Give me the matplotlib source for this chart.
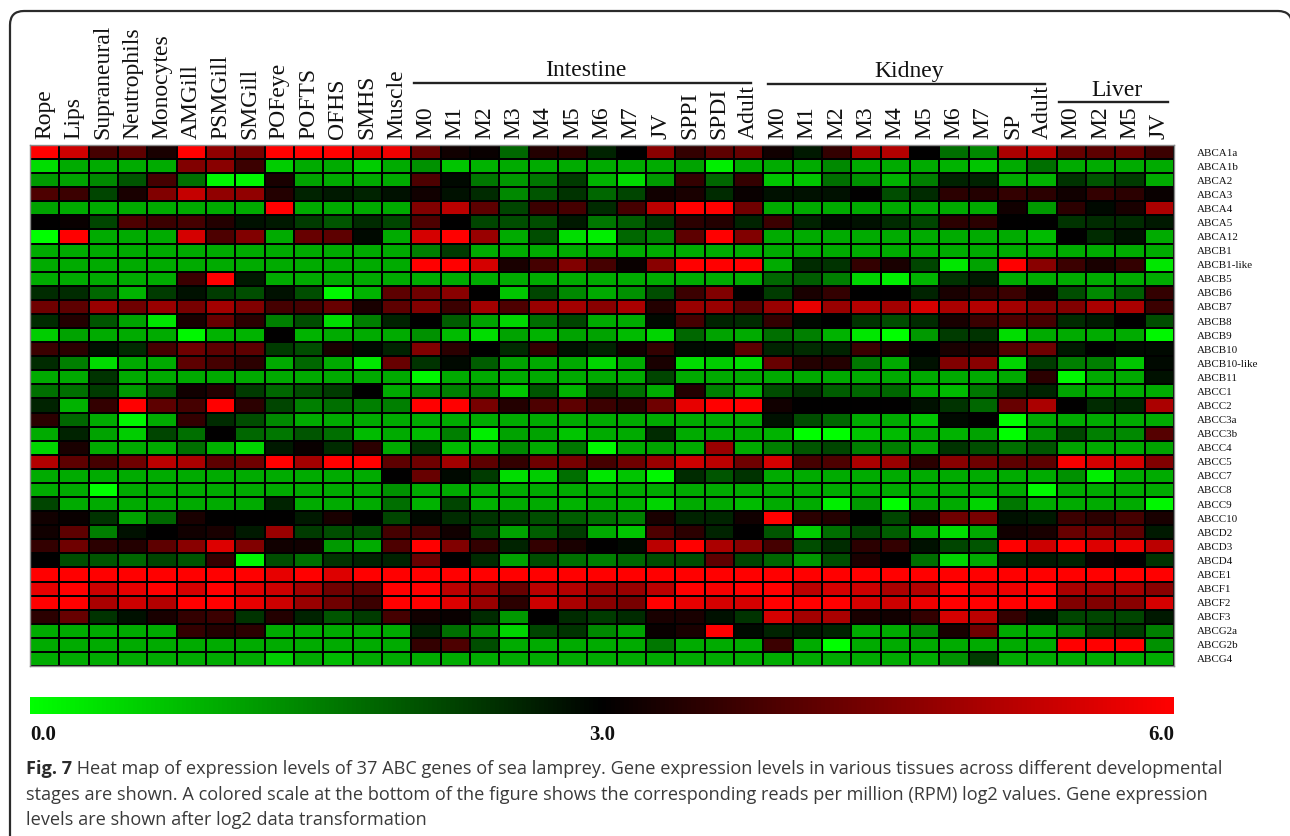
# mapa de calor de genes ABC (lamprea)
import numpy as np
import matplotlib
matplotlib.use('Agg')
import matplotlib.pyplot as plt
from matplotlib.colors import LinearSegmentedColormap
from matplotlib.patches import FancyBboxPatch

genes = ['ABCA1a', 'ABCA1b', 'ABCA2', 'ABCA3', 'ABCA4', 'ABCA5', 'ABCA12', 'ABCB1', 'ABCB1-like',
         'ABCB5', 'ABCB6', 'ABCB7', 'ABCB8', 'ABCB9', 'ABCB10', 'ABCB10-like', 'ABCB11', 'ABCC1',
         'ABCC2', 'ABCC3a', 'ABCC3b', 'ABCC4', 'ABCC5', 'ABCC7', 'ABCC8', 'ABCC9', 'ABCC10',
         'ABCD2', 'ABCD3', 'ABCD4', 'ABCE1', 'ABCF1', 'ABCF2', 'ABCF3', 'ABCG2a', 'ABCG2b', 'ABCG4']

tissue_labels = ['Rope', 'Lips', 'Supraneural', 'Neutrophils', 'Monocytes', 'AMGill', 'PSMGill',
                 'SMGill', 'POFeye', 'POFTS', 'OFHS', 'SMHS', 'Muscle']
intestine_labels = ['M0', 'M1', 'M2', 'M3', 'M4', 'M5', 'M6', 'M7', 'JV', 'SPPI', 'SPDI', 'Adult']
kidney_labels = ['M0', 'M1', 'M2', 'M3', 'M4', 'M5', 'M6', 'M7', 'SP', 'Adult']
liver_labels = ['M0', 'M2', 'M5', 'JV']

tissue_values = [
    [6, 5.4, 3.8, 4.1, 3.3, 6, 4.7, 4.4, 6, 6, 6, 5.6, 5.8],
    [0.4, 1, 1, 1, 1, 4.5, 4.6, 3.7, 0.6, 1, 1, 0.6, 1],
    [1.2, 1.1, 1.4, 2, 3.8, 1.7, 0.1, 0.1, 3.3, 1.1, 1, 1, 1],
    [3.9, 3.7, 2.2, 3.3, 4.5, 5.3, 4.7, 4.7, 3.4, 2.6, 2.7, 2.6, 2.8],
    [1.1, 1, 1, 1, 1, 1, 1, 1, 6, 1, 1, 1, 1],
    [3, 3.1, 2.2, 3.9, 3.7, 3.8, 3.4, 2.8, 2.7, 2.3, 2, 2.5, 2.2],
    [0, 6, 1, 1, 1, 5.5, 3.9, 4.5, 1, 4.2, 4.1, 2.9, 1],
    [1, 1, 1, 1, 1, 1, 1, 1, 1, 1, 1, 1, 1],
    [1, 1, 1, 1, 1, 1, 1, 1, 1, 1, 1, 1, 1],
    [1, 1, 1, 1, 1, 3.7, 6, 2.7, 1, 1, 1, 1, 1],
    [2.5, 2.5, 1.8, 0.9, 2.3, 2.8, 2.3, 2.1, 2.8, 2.1, 0.1, 0.9, 4.1],
    [4.3, 4.1, 4.8, 4.3, 4.8, 4.4, 4.9, 4.5, 3.8, 3.8, 4.2, 3.3, 4.1],
    [2.5, 3.4, 2, 1.1, 0.3, 3.3, 4.2, 3.5, 1.5, 2.1, 0.4, 1.5, 2.6],
    [0.6, 1.1, 1, 1, 1, 0.1, 0.9, 0.9, 3, 0.9, 1, 1, 1],
    [3.7, 3.5, 2.8, 2.5, 3.8, 4.3, 4.1, 4.1, 2.3, 2.1, 3.3, 2.9, 2.6],
    [2.5, 1.5, 0.4, 1, 1, 4.1, 3.8, 3.5, 1, 1.8, 1, 0.3, 4.2],
    [1, 1, 2.4, 1, 1, 1, 1, 1, 1, 1, 1, 1, 1],
    [1.7, 1.7, 2.3, 1.2, 2, 3.2, 3.4, 2.3, 1.8, 2.1, 2.3, 3, 1],
    [2.6, 0.9, 3.6, 6, 4.1, 3.8, 6, 3.5, 2.2, 1.5, 1.7, 1.5, 1.5],
    [3.5, 1.8, 1, 0.1, 1, 3.6, 2.5, 2.1, 1.4, 1, 1, 1, 1],
    [1, 2.6, 1.1, 0.6, 2.2, 1.7, 3, 1.8, 1.6, 2, 1.7, 0.8, 1],
    [0.5, 3.3, 1, 1, 1, 1.7, 0.9, 0.5, 2.7, 3.1, 2.5, 3.5, 1],
    [5.1, 4.1, 3.8, 4.3, 5.2, 5, 4.1, 4.3, 6, 4.9, 6, 6, 4.1],
    [1, 1, 1, 1, 1, 1, 1, 1, 1, 1, 1, 1, 3],
    [1, 1, 0, 1, 1, 1, 1, 1, 1, 1, 1, 1, 1.3],
    [2.2, 1, 1, 1, 1, 1, 1, 1, 2.6, 1, 1, 1, 1.7],
    [3.2, 3.1, 2.4, 1.1, 1.8, 3.3, 3, 3, 3, 2.7, 3.3, 3, 2.2],
    [3.2, 4.1, 1.5, 2.8, 3, 3.2, 3.3, 2.7, 4.8, 2.3, 2.1, 2.1, 3.8],
    [3.6, 4.3, 3.5, 3.4, 4.1, 4.6, 5.6, 4.5, 3.2, 3.2, 1.2, 1, 3.9],
    [3, 2.1, 2, 1.8, 2.2, 2, 3.6, 0.1, 2.1, 1.7, 2.4, 2.6, 2.6],
    [6, 6, 6, 6, 6, 6, 6, 6, 5.7, 6, 5.6, 6, 6],
    [5.7, 6, 5.4, 5.7, 6, 5.5, 6, 5.6, 5.4, 4.9, 4.3, 4.1, 6],
    [6, 6, 5, 5.4, 5.1, 6, 6, 5.7, 5.4, 4.8, 4.3, 3.7, 6],
    [3.5, 4.2, 2.4, 2.8, 3.3, 3.6, 3.7, 2.4, 3.4, 2.6, 2, 2.3, 3.8],
    [1, 1, 1, 1, 1, 3.6, 3.4, 3.5, 1, 1, 1, 1, 1],
    [1, 1, 1, 1, 1, 1, 1, 1, 1, 1, 1, 1, 1],
    [1, 1, 1, 1, 1, 1, 1, 1, 0.6, 1, 0.8, 1, 1],
]

intestine_values = [
    [4.2, 3.2, 3.1, 1.8, 3.4, 3.5, 2.6, 3, 4.6, 3.6, 4.1, 4.2],
    [1.3, 0.7, 0.9, 1, 1, 1, 1, 1, 1, 1.1, 0.2, 1],
    [3.9, 2.9, 1.6, 1.2, 1.6, 2.3, 0.9, 0.4, 1.2, 3.6, 1.8, 3.6],
    [3.2, 2.8, 2.5, 1.4, 2, 2.4, 1.8, 2.2, 3.2, 3.3, 2.5, 3.1],
    [4.5, 5.2, 4.1, 2.2, 3.7, 3.8, 2.5, 3.8, 5.2, 6, 6, 4.3],
    [3.9, 3, 2.2, 2.1, 2.1, 2.7, 1.6, 1.9, 2.4, 3.5, 3.4, 2.6],
    [5.5, 6, 4.8, 1, 2.1, 0.4, 0.2, 1.8, 1.5, 4.1, 6, 4.5],
    [1.5, 2.3, 1, 1, 1, 1, 1, 1, 1, 1, 1, 1],
    [6, 6, 5.5, 3.3, 3.8, 4.5, 3.8, 3.1, 4.6, 6, 6, 6],
    [1, 1, 1, 1, 1, 1, 1, 1, 1, 1, 1, 1],
    [4.3, 4.6, 3, 0.7, 2.2, 1.4, 1, 1.3, 2.1, 3.7, 4.5, 3],
    [4.5, 3.7, 4.9, 3.9, 4.8, 4.9, 4.6, 5, 3.4, 4.8, 4.8, 4.1],
    [3, 1.9, 1.1, 0.5, 1.7, 2.2, 1, 1, 2.9, 3.8, 2.6, 2.5],
    [1.3, 0.8, 0.4, 1.1, 0.9, 1.1, 1.1, 0.8, 0.5, 1.8, 1.1, 1],
    [4.5, 3.5, 3, 2.5, 3.6, 2.8, 2.6, 3.2, 3.6, 2.9, 2.9, 4.1],
    [2.4, 2.9, 1.9, 1.1, 1, 1, 0.5, 1, 3.3, 0.4, 0.6, 0.4],
    [0.1, 1, 1, 1, 1, 1, 1, 1, 2.2, 1, 1, 1],
    [1.4, 1.5, 1.5, 0.7, 2, 0.9, 2.2, 1.7, 1, 3.4, 1.5, 1],
    [6, 6, 4.4, 3.4, 3.9, 4.1, 3.7, 3.5, 4.3, 5.7, 6, 6],
    [1, 1, 1, 1, 1, 1, 1, 1, 1, 1, 1, 1],
    [0.8, 1.5, 0.2, 1.1, 1.1, 0.7, 1, 1, 2.5, 1, 1, 1],
    [2.4, 0.8, 0.8, 1.4, 1, 1.6, 0.1, 1, 1.1, 1, 4.8, 1],
    [4.3, 4.9, 4.1, 3.6, 4.3, 4.4, 3.8, 4.3, 4.8, 5.4, 5.2, 4.3],
    [4.2, 2.9, 2.3, 0.4, 0.6, 1.7, 0.3, 0.7, 0.1, 2.5, 2, 2.4],
    [1, 1, 1, 1, 1, 1, 1, 1, 1, 1, 1, 1],
    [0.9, 2.2, 0.9, 1, 1, 0.9, 1, 0.9, 0.5, 1, 1, 0.8],
    [2.9, 2.5, 2.4, 2.3, 2.1, 1.9, 1.7, 1.5, 3.3, 2.6, 2.6, 3.2],
    [3.8, 3.2, 2.2, 1.1, 1.9, 2.3, 1, 0.7, 3.9, 3.5, 2.6, 3],
    [6, 4.5, 3.6, 2.6, 3.6, 3.3, 3, 2.9, 5.2, 6, 5, 4.6],
    [4.2, 3, 2.5, 1.1, 2.1, 1.7, 1.5, 1.8, 2.1, 2.1, 4.1, 2.2],
    [6, 6, 6, 6, 6, 6, 6, 6, 6, 6, 6, 6],
    [6, 5.2, 4.8, 4.2, 5.2, 5.1, 4.8, 4.8, 5.2, 6, 5.9, 6],
    [6, 5.6, 4.8, 3.5, 5.4, 5, 4.6, 4.4, 6, 5.7, 5.5, 5.5],
    [3.2, 3.1, 2.5, 1.2, 3, 2.5, 2.3, 2.5, 3.3, 3.3, 2.8, 2.4],
    [2.6, 1.7, 1.4, 0.5, 2.2, 2.4, 1.4, 1.1, 3.1, 3.3, 6, 2.9],
    [3.6, 3.9, 2.1, 1, 1, 1, 1, 1, 1.6, 1, 1, 1],
    [1, 1, 1, 1, 1, 1, 1, 1, 1, 1, 1, 1],
]

kidney_values = [
    [3.2, 2.7, 3.6, 4.9, 5.1, 3, 1.7, 1.4, 5, 5.2],
    [1, 1, 1.4, 1, 1, 1, 0.9, 0.7, 1, 1.7],
    [0.7, 0.7, 1.7, 1.3, 0.9, 1.5, 2.6, 2.6, 1, 0.9],
    [2.8, 2.8, 2.8, 3, 2.1, 2.5, 3.5, 3.4, 3.6, 3.5],
    [1, 1, 1, 1, 1, 1, 1, 1, 3.2, 1.2],
    [3.7, 2.6, 2.9, 2.8, 2.5, 2.2, 3.5, 3.5, 3, 3],
    [1, 1, 1, 1, 1, 1, 1, 1, 1, 0.8],
    [1, 1, 1, 1, 1, 1, 1, 1, 1, 1],
    [1, 2.5, 2.4, 3.6, 3.3, 2.2, 0.3, 1.1, 6, 4.6],
    [1.8, 1.9, 1.5, 0.5, 0.2, 0.9, 2.4, 2.7, 1, 1],
    [2.3, 3.3, 3.6, 3, 3, 2.6, 3.3, 3.5, 3.7, 3.1],
    [4.8, 5.7, 4.8, 5.1, 4.9, 5.5, 5, 5.1, 4.9, 4.6],
    [3.6, 2.9, 3, 2.4, 2.1, 2.5, 3.3, 3.7, 3.9, 3.8],
    [1.7, 1.5, 0.9, 0.3, 0, 1.2, 2.3, 2.4, 0.4, 1],
    [2.6, 2.5, 2.6, 3.7, 3.3, 3, 3.3, 3.3, 4, 4.3],
    [4.2, 3.4, 3.4, 1.6, 1, 2.8, 4.5, 4.6, 0.5, 2.3],
    [1, 1, 1, 1, 1, 1, 1, 1, 1, 3.5],
    [2.1, 2.4, 1.9, 1.8, 1.8, 1, 0.8, 1.6, 2.4, 2.6],
    [3.2, 3, 3, 3, 3, 2.8, 2.4, 1.8, 4.2, 5],
    [2.8, 2.1, 1.8, 1, 1, 0.7, 2.9, 3, 0, 1],
    [0.9, 0, 0, 0.7, 0.8, 1, 0.9, 1.1, 0, 1.3],
    [1.5, 2, 2.2, 1.5, 1.5, 1.1, 2.4, 2.1, 1.7, 2],
    [5.5, 3.8, 3.9, 5, 4.8, 3.5, 4.6, 4.3, 4.1, 4.1],
    [1, 1, 1, 1, 1, 1, 1, 1, 1, 1],
    [1, 1, 1, 1, 1, 1, 1, 1, 1, 0.1],
    [1, 1, 0.2, 1.2, 0, 1, 1, 0.5, 1.6, 1],
    [6, 3.5, 3.4, 3, 2.2, 3.3, 4.3, 4.4, 2.8, 2.7],
    [2, 0.6, 1.7, 2.2, 1.9, 1, 0.4, 1, 3.2, 3.3],
    [3.8, 2.1, 2.5, 3.5, 3.6, 2.8, 2.2, 2, 6, 5.4],
    [1.8, 1.2, 2.1, 3.3, 3, 1.7, 0.5, 1, 2.6, 2.7],
    [6, 6, 6, 6, 6, 6, 6, 6, 6, 6],
    [6, 5.2, 5.5, 5.4, 5, 5.1, 6, 5.7, 5.8, 6],
    [6, 6, 6, 5.5, 5.4, 5.8, 6, 6, 6, 6],
    [5.5, 4.9, 5, 3.3, 3.2, 3.6, 5.5, 5.2, 3.6, 2.8],
    [2.6, 2.7, 2.6, 1, 1, 1.4, 3.3, 4.3, 1, 1],
    [3.7, 1, 0, 1, 1, 1, 1, 1, 1, 1],
    [1, 1, 1, 1, 1, 1, 1.3, 2.3, 1, 1],
]

liver_values = [
    [4.2, 4.1, 4.2, 3.7],
    [1, 1, 1, 1],
    [2.4, 2, 2.3, 1],
    [3.2, 3.6, 3.5, 3.1],
    [3.5, 2.9, 3.3, 5],
    [2.4, 2.5, 2.5, 2.7],
    [3, 2.5, 2.8, 1],
    [1, 1, 1, 1],
    [3.7, 3.3, 3.6, 0.3],
    [1, 1, 1, 1],
    [2.1, 1.4, 1.9, 3.6],
    [4.5, 5, 5, 3.7],
    [2.5, 2.7, 3, 2.1],
    [1, 1, 1, 0.1],
    [2.7, 3, 2.9, 2.9],
    [1.5, 1.5, 0.7, 2.9],
    [0.1, 1, 1, 2.8],
    [1.1, 1, 1, 1],
    [3, 2.5, 2.6, 5],
    [1, 1, 1, 1],
    [2.2, 1.5, 1.4, 4],
    [1.1, 1, 1, 1.1],
    [5.9, 5.5, 5.5, 4.5],
    [1.3, 0.2, 1, 1],
    [1, 1, 1, 1],
    [1, 1, 1, 0.1],
    [3.7, 3.5, 3.8, 3.3],
    [4.2, 4.3, 4.1, 2.7],
    [6, 5.6, 5.8, 5.2],
    [2.6, 3.1, 3, 2.4],
    [6, 6, 6, 6],
    [5, 4.9, 4.9, 4.6],
    [4.5, 4.5, 4.6, 5.5],
    [2.2, 2.2, 2.2, 2.7],
    [1.5, 2.2, 2.3, 1.5],
    [6, 6, 6, 1.3],
    [1, 1, 1, 1],
]

caption_bold = 'Fig. 7'
caption_lines = [
    ' Heat map of expression levels of 37 ABC genes of sea lamprey. Gene expression levels in various tissues across different developmental',
    'stages are shown. A colored scale at the bottom of the figure shows the corresponding reads per million (RPM) log2 values. Gene expression',
    'levels are shown after log2 data transformation',
]

W, H = 1290, 836
SERIF = 'Liberation Serif'

# verde - negro - rojo
cmap = LinearSegmentedColormap.from_list('gbr', ['#00ff00', '#000000', '#ff0000'])
matrix = np.hstack([tissue_values, intestine_values, kidney_values, liver_values])
col_labels = tissue_labels + intestine_labels + kidney_labels + liver_labels


def caja(x0, y0, x1, y1):
    return [x0 / W, 1 - y1 / H, (x1 - x0) / W, (y1 - y0) / H]


fig = plt.figure(figsize=(W / 100, H / 100), dpi=100, facecolor='white')

# capa de fondo en pixeles para marco, titulos y pie
bg = fig.add_axes([0, 0, 1, 1])
bg.set_xlim(0, W)
bg.set_ylim(H, 0)
bg.axis('off')
bg.add_patch(FancyBboxPatch((24, 25), 1254, 900, boxstyle='round,pad=14,rounding_size=14',
                            fc='white', ec='#2b2b2b', lw=1.6))

ax = fig.add_axes(caja(30, 145, 1174, 666))
mesh = ax.pcolormesh(matrix, cmap=cmap, vmin=0, vmax=6, edgecolors='black', linewidth=1.35)
ax.set_ylim(len(genes), 0)
ax.set_xlim(0, len(col_labels))
for s in ax.spines.values():
    s.set_color('#8a8a8a')
    s.set_linewidth(1)

ax.xaxis.tick_top()
ax.set_xticks(np.arange(len(col_labels)) + 0.5)
ax.set_xticklabels(col_labels, rotation=90, fontsize=17, family=SERIF, color='#111111')
ax.yaxis.tick_right()
ax.set_yticks(np.arange(len(genes)) + 0.5)
ax.set_yticklabels(genes, fontsize=7.9, family=SERIF, color='#111111')
ax.tick_params(axis='x', length=0, pad=4)
ax.tick_params(axis='y', length=0, pad=16.5)

# grupos de tejidos
bg.plot([414, 751], [83, 83], color='#222222', lw=1.7)
bg.plot([768, 1045], [84, 84], color='#222222', lw=1.7)
bg.plot([1059, 1168], [101.5, 101.5], color='#222222', lw=1.7)
bg.text(586, 71, 'Intestine', family=SERIF, fontsize=17, ha='center', va='center', color='#111111')
bg.text(909, 72, 'Kidney', family=SERIF, fontsize=17, ha='center', va='center', color='#111111')
bg.text(1117, 90, 'Liver', family=SERIF, fontsize=17, ha='center', va='center', color='#111111')

# barra de color
cax = fig.add_axes(caja(30, 697, 1174, 714))
cb = fig.colorbar(mesh, cax=cax, orientation='horizontal')
cb.set_ticks([])
cb.outline.set_visible(False)
bg.text(30, 735, '0.0', family=SERIF, fontsize=15, weight='bold', va='center', color='#111111')
bg.text(602, 735, '3.0', family=SERIF, fontsize=15, weight='bold', va='center', ha='center', color='#111111')
bg.text(1174, 735, '6.0', family=SERIF, fontsize=15, weight='bold', va='center', ha='right', color='#111111')

# pie de figura
pie = bg.text(26, 774, caption_bold, family='Open Sans', weight='bold', fontsize=13.08,
              va='baseline', color='#2b2b2b')
bg.annotate(caption_lines[0], xy=(1, 0), xycoords=pie, xytext=(0, 0), textcoords='offset points',
            family='Open Sans', fontsize=13.08, va='bottom', color='#3a3a3a')
bg.text(26, 799.5, caption_lines[1], family='Open Sans', fontsize=13.08, va='baseline', color='#3a3a3a')
bg.text(26, 825, caption_lines[2], family='Open Sans', fontsize=13.08, va='baseline', color='#3a3a3a')

fig.savefig('out.png', dpi=100)
